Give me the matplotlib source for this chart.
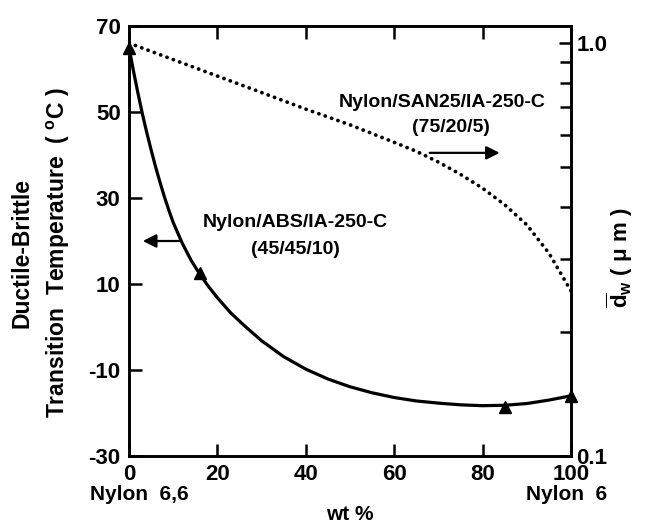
import numpy as np
import matplotlib.pyplot as plt
from matplotlib.ticker import FixedLocator, NullFormatter

plt.rcParams['font.family'] = ['Liberation Sans', 'DejaVu Sans']
plt.rcParams['font.weight'] = 'bold'
plt.rcParams['axes.unicode_minus'] = False
plt.rcParams['mathtext.fontset'] = 'custom'
plt.rcParams['mathtext.rm'] = 'Liberation Sans:bold'
plt.rcParams['mathtext.it'] = 'Liberation Sans:bold'
plt.rcParams['mathtext.bf'] = 'Liberation Sans:bold'

# Nylon/ABS/IA-250-C : ductile-brittle temperature (left axis)
abs_x = [0, 16, 85, 100]
abs_t = [65, 12.5, -18.5, -16]
# smooth curve drawn through those points
fit_x = [0, 1, 2, 3, 4, 5, 6, 7, 8, 9, 10, 12, 14, 16, 18, 20, 23, 26, 30, 35,
         40, 45, 50, 55, 60, 65, 70, 75, 80, 85, 90, 95, 100]
fit_t = [65, 59.6, 54.5, 49.7, 45.3, 41.2, 37.3, 33.7, 30.3, 27.2, 24.3, 19.6,
         15.6, 12.3, 9.4, 6.8, 3.3, 0.4, -3.2, -6.9, -9.8, -12.1, -13.9, -15.3,
         -16.4, -17.2, -17.7, -18.1, -18.3, -18.2, -17.8, -17.0, -16.0]

# Nylon/SAN25/IA-250-C : particle size dw (right axis, log)
san_x = [0, 10, 20, 30, 40, 50, 60, 65, 70, 75, 80, 85, 90, 95, 100]
san_d = [1.0, 0.912, 0.832, 0.759, 0.692, 0.634, 0.575, 0.547, 0.515, 0.481,
         0.445, 0.406, 0.363, 0.310, 0.251]

x_ticks = [0, 20, 40, 60, 80, 100]
t_ticks = [-30, -10, 10, 30, 50, 70]

fig = plt.figure(figsize=(6.47, 5.28), dpi=100)
ax = fig.add_axes([129/647, 1-456/528, 442/647, 430/528])

ax.plot(fit_x, fit_t, color='black', lw=2.3, solid_capstyle='round', solid_joinstyle='round')
ax.plot(abs_x, abs_t, ls='none', marker='^', ms=9, color='black', clip_on=False)

ax.set_xlim(0, 100)
ax.set_ylim(-30, 70)
ax.set_xticks(x_ticks)
ax.set_yticks(t_ticks)
ax.tick_params(direction='in', length=9, width=1.8, labelsize=16,
               top=True, pad=6)
for s in ax.spines.values():
    s.set_linewidth(1.9)

ax2 = ax.twinx()
ax2.plot(san_x, san_d, color='black', lw=2.7, ls=(0, (0.05, 1.75)),
         dash_capstyle='round')
ax2.set_yscale('log')
ax2.set_ylim(0.1, 1.1)
ax2.yaxis.set_major_locator(FixedLocator([0.1, 1.0]))
ax2.set_yticklabels(['0.1', '1.0'])
ax2.yaxis.set_minor_locator(FixedLocator([0.2, 0.3, 0.4, 0.5, 0.6, 0.7, 0.8, 0.9]))
ax2.yaxis.set_minor_formatter(NullFormatter())
ax2.tick_params(which='major', direction='in', length=9, width=1.8, labelsize=16, pad=4)
ax2.tick_params(which='minor', direction='in', length=8, width=1.8)
for s in ax2.spines.values():
    s.set_linewidth(1.9)

# labels inside the plot
ax.text(37.6, 24.2, 'Nylon/ABS/IA-250-C', ha='center', va='center', fontsize=14)
ax.text(37.6, 18.1, '(45/45/10)', ha='center', va='center', fontsize=14)
ax.text(70.8, 52.3, 'Nylon/SAN25/IA-250-C', ha='center', va='center', fontsize=14)
ax.text(72.9, 46.3, '(75/20/5)', ha='center', va='center', fontsize=14)

ax.annotate('', xy=(2.5, 20), xytext=(12.3, 20),
            arrowprops=dict(arrowstyle='-|>', lw=1.6, color='black', mutation_scale=20))
ax.annotate('', xy=(84.5, 40.5), xytext=(67.4, 40.5),
            arrowprops=dict(arrowstyle='-|>', lw=1.6, color='black', mutation_scale=20))

# axis titles
fig.text(22/647, 1-253/528, 'Ductile-Brittle', rotation=90, ha='center', va='center', fontsize=16.5)
fig.text(58/647, 1-253/528, 'Transition  Temperature  ( $^{\\mathrm{o}}$C )', rotation=90,
         ha='center', va='center', fontsize=16.5)
fig.text(620/647, 1-258/528, r'$\overline{\mathrm{d}}_{\mathrm{w}}$ ( $\mu$ m )', rotation=90,
         ha='center', va='center', fontsize=16)
fig.text(139/647, 1-495/528, 'Nylon  6,6', ha='center', va='center', fontsize=15)
fig.text(567/647, 1-495/528, 'Nylon  6', ha='center', va='center', fontsize=15)
fig.text(350/647, 1-515/528, 'wt %', ha='center', va='center', fontsize=15)

fig.savefig('out.png', dpi=100)
